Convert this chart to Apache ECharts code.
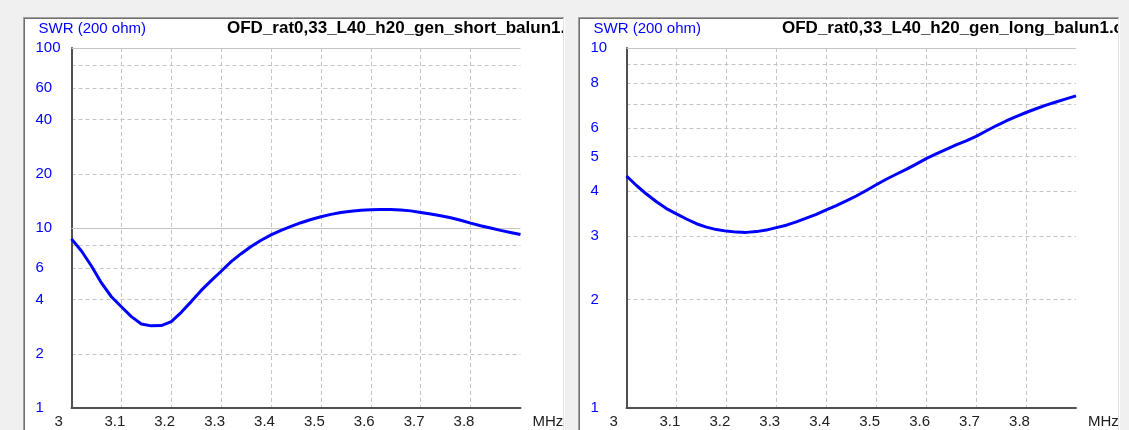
<!DOCTYPE html>
<html><head><meta charset="utf-8">
<script src="https://cdn.jsdelivr.net/npm/echarts@6/dist/echarts.min.js"></script>
<style>html,body{margin:0;padding:0;background:#f0f0f0;overflow:hidden;}#c{width:1129px;height:430px;}</style>
</head><body><div id="c"></div><script>
// ---- data (MHz, SWR) ----
const freqs = [3.00,3.02,3.04,3.06,3.08,3.10,3.12,3.14,3.16,3.18,3.20,3.22,3.24,3.26,3.28,3.30,3.32,3.34,3.36,3.38,3.40,3.42,3.44,3.46,3.48,3.50,3.52,3.54,3.56,3.58,3.60,3.62,3.64,3.66,3.68,3.70,3.72,3.74,3.76,3.78,3.80,3.82,3.84,3.86,3.88,3.90];
const swrShort = [8.7,7.45,6.15,4.95,4.15,3.65,3.22,2.93,2.86,2.87,3.02,3.4,3.9,4.5,5.1,5.75,6.5,7.2,7.9,8.55,9.15,9.7,10.2,10.7,11.15,11.55,11.9,12.2,12.4,12.55,12.62,12.66,12.66,12.6,12.45,12.2,11.95,11.7,11.4,11.05,10.65,10.3,10.0,9.7,9.45,9.2];
const swrLong = [4.41,4.15,3.93,3.74,3.58,3.46,3.35,3.25,3.18,3.13,3.10,3.08,3.075,3.09,3.12,3.17,3.22,3.29,3.37,3.45,3.55,3.65,3.76,3.88,4.02,4.17,4.32,4.46,4.6,4.76,4.93,5.08,5.23,5.38,5.52,5.68,5.88,6.08,6.27,6.45,6.62,6.78,6.94,7.08,7.22,7.36];
const titleShort = 'OFD_rat0,33_L40_h20_gen_short_balun1.';
const titleLong = 'OFD_rat0,33_L40_h20_gen_long_balun1.c';
const yName = 'SWR (200 ohm)';
const xName = 'MHz';
const xMin = 3, xMax = 3.9, xStep = 0.1;
const leftYLabels = [1,2,4,6,10,20,40,60,100];
const leftYGrid = [2,4,6,8,20,40,60,80];
const leftYSolid = [10,100];
const rightYLabels = [1,2,3,4,5,6,8,10];
const rightYGrid = [2,3,4,5,6,7,8,9];
const rightYSolid = [10];

const chart = echarts.init(document.getElementById('c'), null, {renderer:'canvas'});
const FONT = 'Liberation Sans, Arial, sans-serif';
const gridCol = '#c4c4c4';
const blue = '#0000ff';

function xAxis(gi){
  return {
    type:'value', gridIndex:gi, min:xMin, max:xMax, interval:xStep,
    name:xName, nameLocation:'end', nameGap:12,
    nameTextStyle:{color:'#202020', fontFamily:FONT, fontSize:15, align:'left', verticalAlign:'top', padding:[6,0,0,0]},
    axisLine:{show:true, lineStyle:{color:'#505050', width:2}},
    axisTick:{show:false},
    axisLabel:{color:'#202020', fontFamily:FONT, fontSize:15, align:'left', padding:[0,0,0,-17], margin:6, showMaxLabel:false},
    splitLine:{show:true, showMinLine:false, showMaxLine:false, lineStyle:{color:gridCol, type:[4,3], width:1}}
  };
}
function yAxis(gi, max, labels, grid){
  return {
    type:'log', logBase:10, gridIndex:gi, min:1, max:max,
    name:yName, nameLocation:'end', nameGap:19,
    nameTextStyle:{color:blue, fontFamily:FONT, fontSize:15, align:'left', verticalAlign:'middle', padding:[0,0,0,-33]},
    axisLine:{show:true, lineStyle:{color:'#505050', width:2}},
    axisTick:{show:false, customValues:grid},
    axisLabel:{color:blue, fontFamily:FONT, fontSize:15, align:'left', margin:36, customValues:labels, padding:[0,0,3,0]},
    splitLine:{show:true, showMinLine:true, showMaxLine:true, lineStyle:{color:gridCol, type:[4,3], width:1}}
  };
}
function series(xi, data, solid){
  return {
    type:'line', xAxisIndex:xi, yAxisIndex:xi,
    data: freqs.map((f,i)=>[f,data[i]]),
    showSymbol:false, symbol:'none', smooth:false, z:3,
    lineStyle:{color:blue, width:3}, itemStyle:{color:blue},
    markLine:{silent:true, symbol:['none','none'], z:1, label:{show:false},
      lineStyle:{color:gridCol, type:'solid', width:1.2},
      data: solid.map(v=>({yAxis:v}))}
  };
}

const panels = [[23,17],[578,17]];
const graphics = [];
panels.forEach(([x,y])=>{
  graphics.push({type:'rect', z:-10, silent:true, shape:{x:x, y:y, width:542, height:440}, style:{fill:'#ffffff'}});
});
// chrome on top (clips titles)
graphics.push({type:'rect', z:100, silent:true, shape:{x:565,y:0,width:13,height:430}, style:{fill:'#f0f0f0'}});
graphics.push({type:'rect', z:100, silent:true, shape:{x:1120,y:0,width:9,height:430}, style:{fill:'#f0f0f0'}});
panels.forEach(([x,y])=>{
  graphics.push({type:'line', z:101, silent:true, shape:{x1:x, y1:y+0.5, x2:x+541, y2:y+0.5}, style:{stroke:'#a0a0a0', lineWidth:1}});
  graphics.push({type:'line', z:101, silent:true, shape:{x1:x+0.5, y1:y, x2:x+0.5, y2:440}, style:{stroke:'#a0a0a0', lineWidth:1}});
  graphics.push({type:'line', z:101, silent:true, shape:{x1:x+1, y1:y+1.5, x2:x+540, y2:y+1.5}, style:{stroke:'#707070', lineWidth:1}});
  graphics.push({type:'line', z:101, silent:true, shape:{x1:x+1.5, y1:y+1, x2:x+1.5, y2:440}, style:{stroke:'#707070', lineWidth:1}});
  graphics.push({type:'line', z:101, silent:true, shape:{x1:x+540.5, y1:y+1, x2:x+540.5, y2:440}, style:{stroke:'#e3e3e3', lineWidth:1}});
  graphics.push({type:'line', z:101, silent:true, shape:{x1:x+541.5, y1:y, x2:x+541.5, y2:440}, style:{stroke:'#ffffff', lineWidth:1}});
});

chart.setOption({
  animation:false,
  backgroundColor:'#f0f0f0',
  title:[
    {text:titleShort, left:227, top:20, padding:0, textStyle:{fontFamily:FONT, fontSize:17, fontWeight:'bold', color:'#000'}},
    {text:titleLong, left:782, top:20, padding:0, textStyle:{fontFamily:FONT, fontSize:17, fontWeight:'bold', color:'#000'}}
  ],
  grid:[
    {left:71.5, top:48, width:449, height:360},
    {left:626.5, top:48, width:449.5, height:360}
  ],
  xAxis:[xAxis(0), xAxis(1)],
  yAxis:[yAxis(0,100,leftYLabels,leftYGrid), yAxis(1,10,rightYLabels,rightYGrid)],
  series:[series(0,swrShort,leftYSolid), series(1,swrLong,rightYSolid)],
  graphic:graphics
});
</script></body></html>
